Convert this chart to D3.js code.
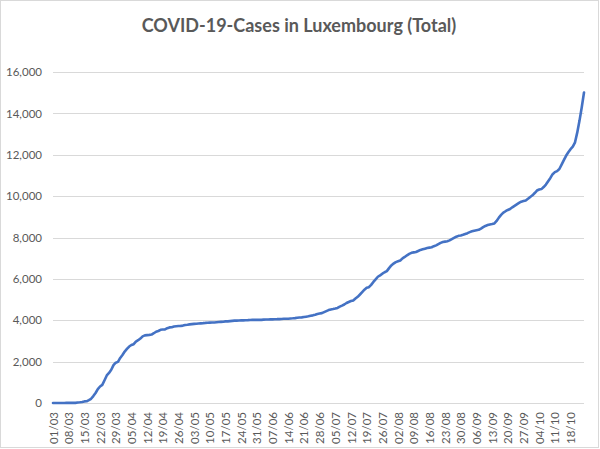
<!DOCTYPE html>
<html>
<head>
<meta charset="utf-8">
<script src="https://cdn.jsdelivr.net/npm/d3@7"></script>
<style>
  body { margin: 0; background: white; }
  svg { display: block; }
</style>
</head>
<body>
<div id="container"></div>
<script>
// cumulative cases per day, one array per month (01/03 .. 24/10)
const march = [1, 1, 1, 2, 2, 3, 4, 5, 5, 7, 7, 26, 34, 51, 77, 81, 140, 203, 335, 484, 670, 798, 875, 1099, 1333, 1453, 1605, 1831, 1950, 1988, 2178]
const april = [2319, 2487, 2612, 2729, 2804, 2843, 2970, 3034, 3115, 3223, 3270, 3281, 3292, 3307, 3373, 3444, 3480, 3537, 3550, 3558, 3618, 3654, 3665, 3695, 3711, 3723, 3729, 3741, 3769, 3784]
const may = [3802, 3812, 3824, 3828, 3840, 3851, 3859, 3871, 3877, 3886, 3888, 3894, 3904, 3915, 3923, 3930, 3945, 3947, 3958, 3971, 3980, 3981, 3990, 3993, 3995, 3999, 4004, 4012, 4016, 4018, 4019]
const june = [4019, 4020, 4032, 4035, 4039, 4040, 4043, 4046, 4052, 4054, 4063, 4071, 4074, 4075, 4085, 4093, 4104, 4120, 4133, 4140, 4156, 4172, 4189, 4216, 4236, 4265, 4299, 4325, 4345, 4395]
const july = [4444, 4492, 4522, 4542, 4565, 4594, 4658, 4706, 4762, 4833, 4884, 4928, 4956, 5051, 5134, 5244, 5359, 5477, 5568, 5597, 5710, 5853, 5980, 6103, 6170, 6250, 6321, 6375, 6520, 6650, 6740]
const august = [6810, 6850, 6890, 6990, 7060, 7140, 7210, 7260, 7280, 7300, 7350, 7400, 7430, 7460, 7490, 7510, 7530, 7580, 7620, 7680, 7740, 7780, 7800, 7820, 7860, 7920, 7980, 8040, 8080, 8100, 8130]
const september = [8170, 8210, 8260, 8300, 8330, 8350, 8370, 8430, 8500, 8560, 8600, 8630, 8650, 8680, 8800, 8960, 9090, 9200, 9270, 9330, 9380, 9460, 9530, 9600, 9670, 9730, 9760, 9790, 9870, 9960]
const october = [10040, 10150, 10270, 10320, 10340, 10440, 10560, 10720, 10880, 11060, 11160, 11210, 11310, 11520, 11740, 11950, 12120, 12270, 12390, 12600, 13080, 13650, 14300, 15010]

const months = [["03", march], ["04", april], ["05", may], ["06", june], ["07", july], ["08", august], ["09", september], ["10", october]]

const tickLabels = ["01/03", "08/03", "15/03", "22/03", "29/03", "05/04", "12/04", "19/04", "26/04", "03/05", "10/05", "17/05", "24/05", "31/05", "07/06", "14/06", "21/06", "28/06", "05/07", "12/07", "19/07", "26/07", "02/08", "09/08", "16/08", "23/08", "30/08", "06/09", "13/09", "20/09", "27/09", "04/10", "11/10", "18/10"]
const yTicks = [0, 2000, 4000, 6000, 8000, 10000, 12000, 14000, 16000]

// flatten into {day, value}
const data = []
months.forEach(([m, vals]) => {
    vals.forEach((v, i) => {
        data.push({ day: String(i + 1).padStart(2, "0") + "/" + m, value: v })
    })
})

const w = 600
const h = 449
const plotLeft = 53
const plotRight = 584
const plotTop = 72
const plotBottom = 403

const svg = d3.select("#container")
    .append("svg")
    .attr("width", w)
    .attr("height", h)
    .style("background-color", "white")

svg.append("rect")
    .attr("x", 0.5)
    .attr("y", 0.5)
    .attr("width", w - 2)
    .attr("height", h - 2)
    .attr("fill", "white")
    .attr("stroke", "#d9d9d9")

svg.append("text")
    .attr("x", 299)
    .attr("y", 32)
    .attr("text-anchor", "middle")
    .style("font-family", "Lato, 'Open Sans', sans-serif")
    .style("font-weight", "bold")
    .style("font-size", "18px")
    .style("fill", "#595959")
    .text("COVID-19-Cases in Luxembourg (Total)")

const xScale = d3.scalePoint()
    .domain(data.map((d) => d.day))
    .range([plotLeft, plotRight])

const yScale = d3.scaleLinear()
    .domain([0, 16000])
    .range([plotBottom, plotTop])

// gridlines
svg.append("g")
    .selectAll("line")
    .data(yTicks)
    .enter()
    .append("line")
    .attr("x1", plotLeft)
    .attr("x2", plotRight)
    .attr("y1", (d) => Math.round(yScale(d)) + 0.5)
    .attr("y2", (d) => Math.round(yScale(d)) + 0.5)
    .attr("stroke", "#d9d9d9")
    .attr("stroke-width", 1)

const yAxis = d3.axisLeft(yScale)
    .tickValues(yTicks)
    .tickFormat(d3.format(","))
    .tickSize(0)
    .tickPadding(0)

svg.append("g")
    .attr("transform", `translate(42, 0)`)
    .call(yAxis)
    .call((g) => g.select(".domain").remove())
    .selectAll("text")
    .style("font-family", "Lato, sans-serif")
    .style("font-size", "11.5px")
    .style("fill", "#595959")

const xAxis = d3.axisBottom(xScale)
    .tickValues(tickLabels)
    .tickSize(0)
    .tickPadding(0)

svg.append("g")
    .attr("transform", `translate(0, ${plotBottom})`)
    .call(xAxis)
    .call((g) => g.select(".domain").remove())
    .selectAll("text")
    .attr("transform", "rotate(-90)")
    .attr("x", -9)
    .attr("y", 0)
    .attr("dy", "0.35em")
    .attr("text-anchor", "end")
    .style("font-family", "Lato, sans-serif")
    .style("font-size", "11.5px")
    .style("fill", "#595959")

const line = d3.line()
    .x((d) => xScale(d.day))
    .y((d) => yScale(d.value))

svg.append("path")
    .datum(data)
    .attr("d", line)
    .attr("fill", "none")
    .attr("stroke", "#4472c4")
    .attr("stroke-width", 2.6)
    .attr("stroke-linejoin", "round")
    .attr("stroke-linecap", "round")
</script>
</body>
</html>
